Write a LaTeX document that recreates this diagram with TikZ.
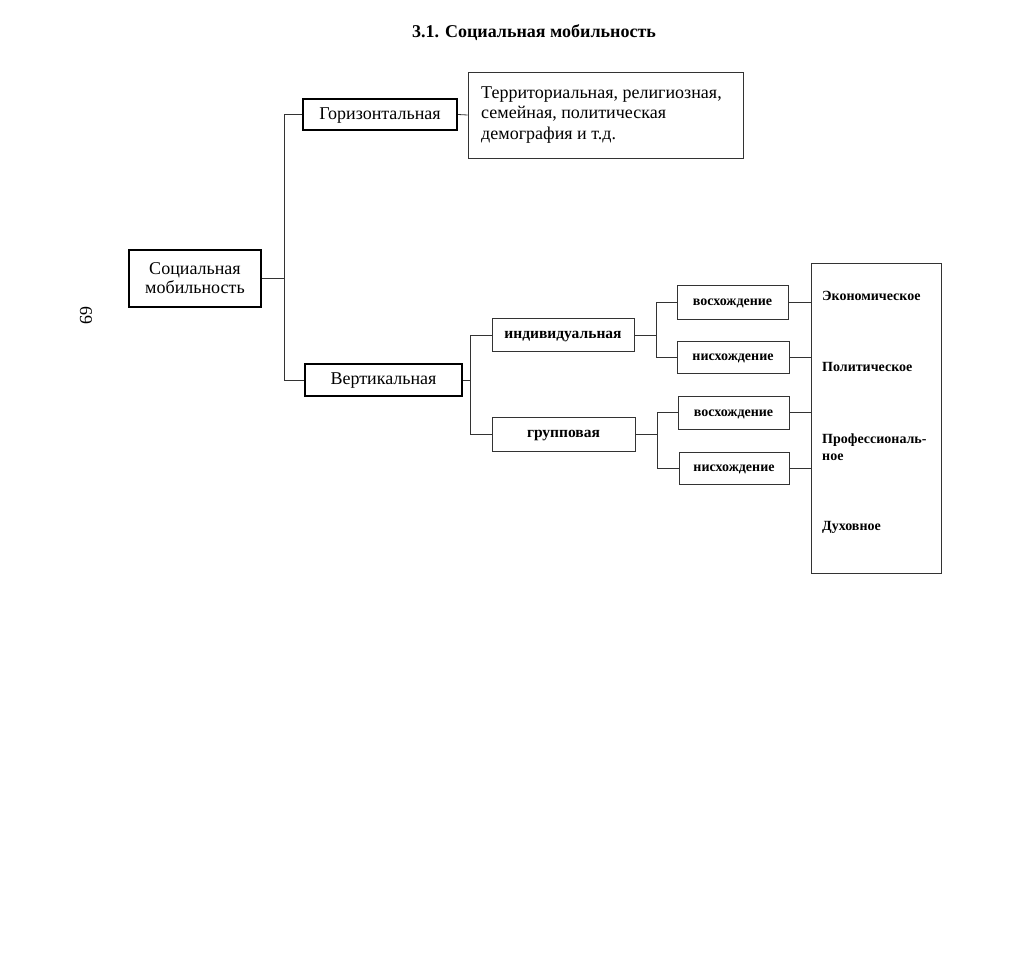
\documentclass[tikz,border=0pt]{standalone}
\usepackage{fontspec}
\setmainfont{Liberation Serif}
\begin{document}
\begin{tikzpicture}[x=1pt,y=-1pt,
  mainbox/.style={draw=black,line width=2.2pt,minimum width=#1,inner sep=0pt,align=center,font=\fontsize{18}{19}\selectfont},
  mainrow/.style={align=none,text height=9.5pt,text depth=0pt},
  subbox/.style={draw=black!80,line width=0.8pt,minimum width=#1,inner sep=0pt,text height=7.8pt,text depth=0pt,font=\fontsize{15.5}{17}\selectfont\bfseries},
  smallbox/.style={draw=black!80,line width=0.8pt,minimum width=#1,inner sep=0pt,text height=7pt,text depth=0pt,font=\fontsize{14}{16}\selectfont\bfseries},
  cat/.style={anchor=west,inner sep=0pt,align=left,font=\fontsize{14}{17}\selectfont\bfseries},
  link/.style={draw=black!80,line width=0.8pt}]
\useasboundingbox (0,0) rectangle (1020,958);
\fill[white] (0,0) rectangle (1020,958);
\node (title) at (534,33) {\fontsize{18}{20}\selectfont\bfseries 3.1. Социальная мобильность};
\node[rotate=-90,font=\fontsize{18}{20}\selectfont] (page) at (86,315) {69};
\node[mainbox=132pt,minimum height=57pt] (soc) at (195,278.5) {Социальная\\мобильность};
\node[mainbox=154pt,minimum height=31pt,mainrow] (gor) at (380,114.5) {Горизонтальная};
\node[mainbox=157pt,minimum height=32pt,mainrow] (vert) at (383.5,380) {Вертикальная};
\node[draw=black!80,line width=0.8pt,minimum width=275pt,minimum height=86pt,inner sep=0pt] (tbox) at (605.5,115) {};
\node[anchor=west,inner sep=0pt,align=left,font=\fontsize{18}{20.5}\selectfont] (ttext) at (481,115) {Территориальная, религиозная,\\семейная, политическая\\демография и т.д.};
\node[subbox=142pt,minimum height=33pt] (ind) at (563,335) {индивидуальная};
\node[subbox=143pt,minimum height=34pt] (grp) at (563.5,434) {групповая};
\node[smallbox=111pt,minimum height=34pt] (v1) at (732.5,302) {восхождение};
\node[smallbox=112pt,minimum height=32pt] (n1) at (733,357) {нисхождение};
\node[smallbox=111pt,minimum height=33pt] (v2) at (733.5,412.5) {восхождение};
\node[smallbox=110pt,minimum height=32pt] (n2) at (734,468) {нисхождение};
\node[draw=black!80,line width=0.8pt,minimum width=130pt,minimum height=310pt,inner sep=0pt] (big) at (876,418) {};
\node[cat] (c1) at (822,296) {Экономическое};
\node[cat] (c2) at (822,367) {Политическое};
\node[cat] (c3) at (822,447) {Профессиональ-\\ное};
\node[cat] (c4) at (822,527) {Духовное};
\coordinate (jA) at (284,0);
\coordinate (jB) at (470,0);
\coordinate (jC) at (656,0);
\coordinate (jD) at (657,0);
\draw[link] (soc.east) -- (soc.east -| jA);
\draw[link] (gor.west) -- (gor.west -| jA) -- (vert.west -| jA) -- (vert.west);
\draw[link] (gor.east) -- (tbox.west);
\draw[link] (vert.east) -- (vert.east -| jB);
\draw[link] (ind.west) -- (ind.west -| jB) -- (grp.west -| jB) -- (grp.west);
\draw[link] (ind.east) -- (ind.east -| jC);
\draw[link] (v1.west) -- (v1.west -| jC) -- (n1.west -| jC) -- (n1.west);
\draw[link] (grp.east) -- (grp.east -| jD);
\draw[link] (v2.west) -- (v2.west -| jD) -- (n2.west -| jD) -- (n2.west);
\draw[link] (v1.east) -- (v1.east -| big.west);
\draw[link] (n1.east) -- (n1.east -| big.west);
\draw[link] (v2.east) -- (v2.east -| big.west);
\draw[link] (n2.east) -- (n2.east -| big.west);
\end{tikzpicture}
\end{document}
